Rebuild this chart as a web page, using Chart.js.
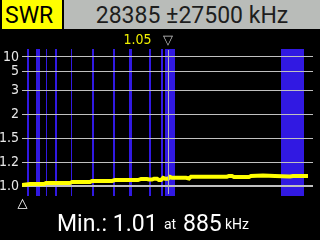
<!DOCTYPE html>
<html>
<head>
<meta charset="utf-8">
<script src="https://cdn.jsdelivr.net/npm/chart.js@4.4.1/dist/chart.umd.min.js"></script>
<style>
html, body { margin: 0; padding: 0; background: #000; width: 320px; height: 240px; overflow: hidden; }
#wrap { position: relative; width: 320px; height: 240px; }
#chart { position: absolute; left: 0; top: 0; }
.hdr { position: absolute; top: 0; height: 29px; box-sizing: border-box; padding-top: 2px; line-height: 27px;
       font-family: Roboto, sans-serif; font-size: 23px; white-space: nowrap; }
#mode { left: 2px; width: 60px; background: #ffff00; color: #000; padding-left: 3px; }
#freq { left: 64px; width: 256px; background: #b9bcb9; color: #1e1e1e; text-align: center; }
.ft { position: absolute; top: 209px; line-height: 30px; font-family: Roboto, sans-serif; color: #fff; white-space: nowrap; }
.big { font-size: 23px; }
.small { font-size: 14px; }
</style>
</head>
<body>
<div id="wrap">
  <canvas id="chart" width="320" height="240"></canvas>
  <div class="hdr" id="mode">SWR</div>
  <div class="hdr" id="freq"></div>
  <div class="ft big" id="minLbl" style="left:57px"></div>
  <div class="ft small" style="left:164px">at</div>
  <div class="ft big" id="minFreq" style="left:183px"></div>
  <div class="ft small" style="left:225px">kHz</div>
</div>
<script>
// sweep
const centerKHz = 28385;
const spanKHz = 27500;
const startKHz = centerKHz - spanKHz;
const stopKHz = centerKHz + spanKHz;

// measured SWR curve
const freqKHz = [885, 2400, 5040, 5420, 9960, 10340, 13740, 14115, 17900, 18460, 22810, 23380,
  24510, 24890, 25455, 25833, 26400, 26778, 27156, 27534, 27912, 28480, 28857, 29235,
  31881, 32448, 32826, 39630, 40008, 40575, 40953, 43788, 44166, 46430, 48700, 51540, 52100, 54939];
const swr = [1.01, 1.018, 1.018, 1.025, 1.025, 1.032, 1.032, 1.040, 1.040, 1.047, 1.047, 1.055,
  1.055, 1.051, 1.051, 1.057, 1.057, 1.047, 1.047, 1.063, 1.057, 1.057, 1.071, 1.064,
  1.064, 1.059, 1.073, 1.073, 1.079, 1.079, 1.071, 1.071, 1.079, 1.083, 1.079, 1.075, 1.079, 1.079];

// band markers (kHz)
const bandStartKHz = [1830, 3530, 5420, 7120, 10150, 14115, 18080, 21090, 24890, 27160, 27910, 49840];
const bandEndKHz   = [2210, 4290, 5610, 7500, 10340, 14490, 18460, 21600, 25270, 27530, 29800, 54180];

// y axis ticks
const swrTicks = [1.0, 1.2, 1.5, 2, 3, 5, 10];
const swrMin = 0.938, swrMax = 22.2;

// cursor + minimum readout
const cursorKHz = 28385;
const cursorSwr = 1.05;
const minSwr = 1.01;
const minKHz = 885;

document.getElementById('freq').textContent = centerKHz + ' \u00b1' + spanKHz + ' kHz';
document.getElementById('minLbl').textContent = 'Min.: ' + minSwr.toFixed(2);
document.getElementById('minFreq').textContent = minKHz;

// SWR axis: linear in 1 - 1/SWR
function swrUnit(v) { return 1 - 1 / v; }

class SwrScale extends Chart.Scale {
  static id = 'swr';
  static defaults = {};
  determineDataLimits() {
    this.min = this.options.min;
    this.max = this.options.max;
  }
  buildTicks() {
    return swrTicks.map(v => ({ value: v }));
  }
  getLabelForValue(v) { return v.toFixed(2); }
  configure() {
    super.configure();
    this._uMin = swrUnit(this.min);
    this._uMax = swrUnit(this.max);
  }
  getPixelForValue(v) {
    return this.getPixelForDecimal((swrUnit(v) - this._uMin) / (this._uMax - this._uMin));
  }
  getValueForPixel(p) {
    const u = this._uMin + this.getDecimalForPixel(p) * (this._uMax - this._uMin);
    return 1 / (1 - u);
  }
}
Chart.register(SwrScale);

const bandPlugin = {
  id: 'bands',
  beforeDraw(chart) {
    const { ctx, chartArea: a, scales: { x } } = chart;
    ctx.save();
    ctx.fillStyle = '#3119e2';
    bandStartKHz.forEach((s, i) => {
      const x0 = Math.round(x.getPixelForValue(s));
      const x1 = Math.round(x.getPixelForValue(bandEndKHz[i]));
      ctx.fillRect(x0, a.top, Math.max(1, x1 - x0), a.bottom - a.top);
    });
    ctx.restore();
  }
};

const cursorPlugin = {
  id: 'cursor',
  afterDatasetsDraw(chart) {
    const { ctx, chartArea: a, scales: { x } } = chart;
    const cx = Math.round(x.getPixelForValue(cursorKHz)) + 0.5;
    ctx.save();
    ctx.strokeStyle = '#b4b4b4';
    ctx.lineWidth = 1;
    ctx.beginPath();
    ctx.moveTo(cx, a.top + 1);
    ctx.lineTo(cx, a.bottom - 2);
    ctx.stroke();
    ctx.restore();
  },
  afterDraw(chart) {
    const { ctx, chartArea: a, scales: { x } } = chart;
    const cx = x.getPixelForValue(cursorKHz);
    const mx = x.getPixelForValue(minKHz);
    ctx.save();
    ctx.textBaseline = 'alphabetic';
    ctx.font = '14px "Liberation Sans Narrow", "DejaVu Sans Condensed", sans-serif';
    ctx.fillStyle = '#f0f000';
    ctx.textAlign = 'right';
    ctx.fillText(cursorSwr.toFixed(2), cx - 16, 44);
    ctx.font = '13px "DejaVu Sans", sans-serif';
    ctx.textAlign = 'center';
    ctx.fillStyle = '#c8c8c8';
    ctx.fillText('\u25bd', cx + 0.5, 44);
    ctx.fillStyle = '#ffffff';
    ctx.fillText('\u25b3', mx + 0.5, 207);
    ctx.restore();
  }
};

new Chart(document.getElementById('chart'), {
  type: 'line',
  data: {
    datasets: [{
      data: freqKHz.map((f, i) => ({ x: f, y: swr[i] })),
      borderColor: '#ffff00',
      borderWidth: 4,
      pointRadius: 0,
      tension: 0,
      fill: false
    }]
  },
  options: {
    responsive: false,
    animation: false,
    events: [],
    layout: { padding: { left: 0, right: 7, top: 49, bottom: 44 } },
    plugins: { legend: { display: false }, tooltip: { enabled: false } },
    scales: {
      x: { type: 'linear', min: startKHz, max: stopKHz, display: false },
      y: {
        type: 'swr',
        min: swrMin,
        max: swrMax,
        afterFit: s => { s.width = 22; },
        border: { display: false },
        grid: {
          color: '#c0c0c0',
          lineWidth: c => (c.tick && c.tick.value === 1 ? 2 : 1),
          drawTicks: false
        },
        ticks: {
          padding: 3,
          color: '#e8e8e8',
          font: { family: '"Liberation Sans Narrow", "DejaVu Sans Condensed", sans-serif', size: 14 },
          callback: v => (v === 1 ? '1.0' : String(v))
        }
      }
    }
  },
  plugins: [bandPlugin, cursorPlugin]
});
</script>
</body>
</html>
